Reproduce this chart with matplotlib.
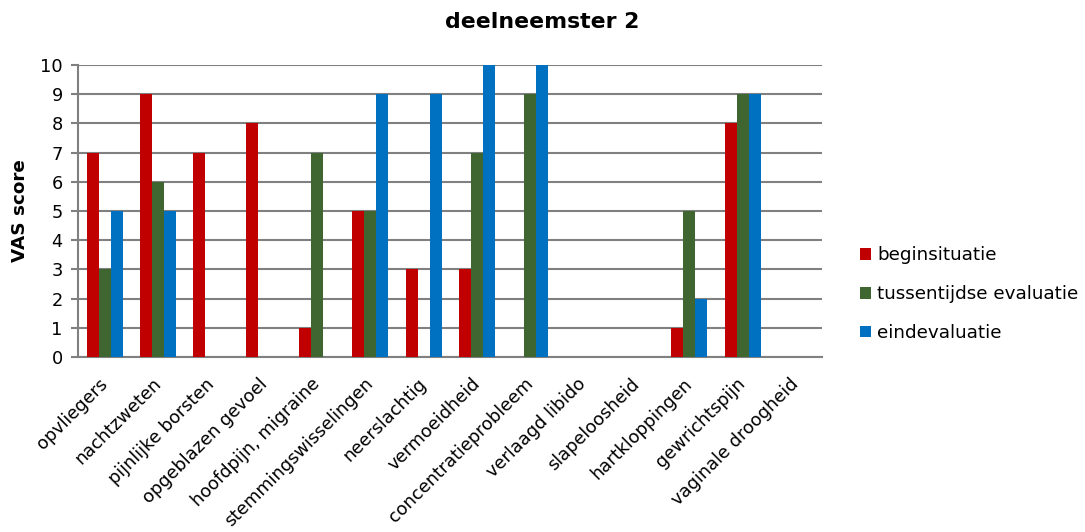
import matplotlib
matplotlib.use("Agg")
import matplotlib.pyplot as plt
import matplotlib.transforms as mtransforms
import numpy as np

categories = ["opvliegers", "nachtzweten", "pijnlijke borsten", "opgeblazen gevoel",
              "hoofdpijn, migraine", "stemmingswisselingen", "neerslachtig",
              "vermoeidheid", "concentratieprobleem", "verlaagd libido",
              "slapeloosheid", "hartkloppingen", "gewrichtspijn", "vaginale droogheid"]
begin = [7, 9, 7, 8, 1, 5, 3, 3, 0, 0, 0, 1, 8, 0]
tussen = [3, 6, 0, 0, 7, 5, 0, 7, 9, 0, 0, 5, 9, 0]
eind = [5, 5, 0, 0, 0, 9, 9, 10, 10, 0, 0, 2, 9, 0]
series = ["beginsituatie", "tussentijdse evaluatie", "eindevaluatie"]
colors = ["#C00000", "#3F6631", "#0070C0"]

plt.rcParams["font.family"] = "DejaVu Sans"

fig = plt.figure(figsize=(10.85, 5.32), dpi=100)
ax = fig.add_axes([0.0719, 0.329, 0.686, 0.549])

x = np.arange(len(categories))
w = 0.225
for i, (vals, name, c) in enumerate(zip([begin, tussen, eind], series, colors)):
    ax.bar(x + (i - 1) * w, vals, w, color=c, label=name, zorder=3)

ax.set_xlim(-0.5, len(categories) - 0.5)
ax.set_ylim(0, 10)
ax.set_yticks(range(0, 11))
ax.yaxis.grid(True, color="#808080", linewidth=1.5, zorder=0)
for s in ["top", "right"]:
    ax.spines[s].set_visible(False)
ax.spines["left"].set_color("#808080")
ax.spines["left"].set_linewidth(1.5)
ax.spines["bottom"].set_color("#808080")
ax.spines["bottom"].set_linewidth(1.5)
ax.tick_params(axis="y", length=5, color="#808080", width=1.5, labelsize=12.8, pad=6)
ax.tick_params(axis="x", length=0, labelsize=12.8, pad=10)
ax.set_xticks(x)
ax.set_xticklabels(categories, rotation=45, ha="right", rotation_mode="anchor")
# schuif de labels iets naar links/onder
shift = mtransforms.ScaledTranslation(-0.06, -0.04, fig.dpi_scale_trans)
for lab in ax.get_xticklabels():
    lab.set_transform(lab.get_transform() + shift)
ax.set_ylabel("VAS score", fontweight="bold", fontsize=13.2, labelpad=8)

fig.suptitle("deelneemster 2", fontweight="bold", fontsize=15.8, x=0.5, y=0.978)

fig.legend(loc="center left", bbox_to_anchor=(0.793, 0.447), frameon=False,
           fontsize=13.2, labelspacing=1.13, handlelength=0.6, handleheight=0.6,
           handletextpad=0.3, borderaxespad=0, borderpad=0)

fig.savefig("out.png", dpi=100)
